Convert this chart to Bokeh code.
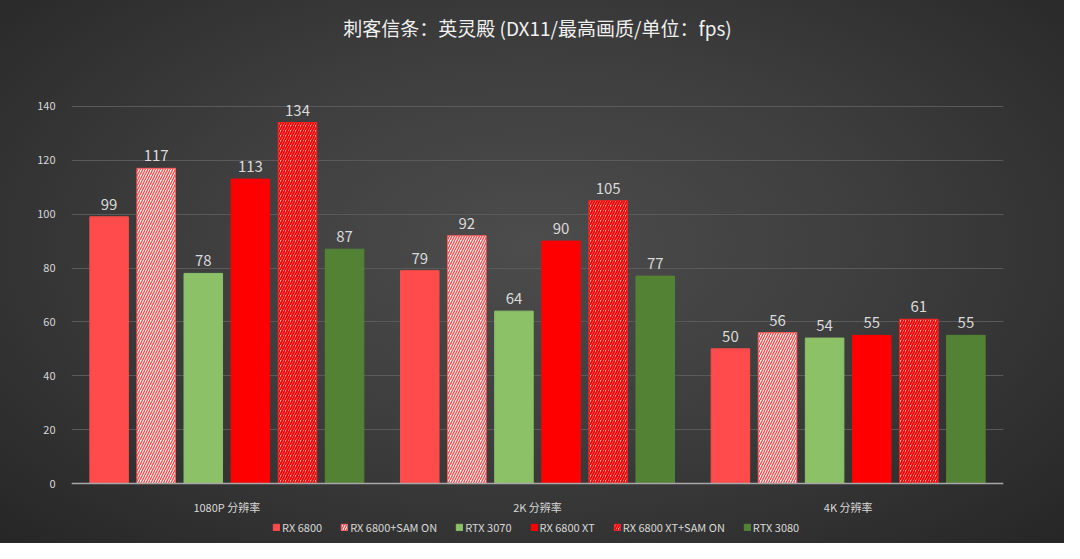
from bokeh.plotting import figure
from bokeh.models import ColumnDataSource, Range1d, FactorRange
from bokeh.transform import dodge
from bokeh.core.properties import value
from bokeh.embed import file_html
from bokeh.resources import INLINE

categories = ["1080P 分辨率", "2K 分辨率", "4K 分辨率"]
series = ["RX 6800", "RX 6800+SAM ON", "RTX 3070", "RX 6800 XT", "RX 6800 XT+SAM ON", "RTX 3080"]
rx6800 = [99, 79, 50]
rx6800_sam = [117, 92, 56]
rtx3070 = [78, 64, 54]
rx6800xt = [113, 90, 55]
rx6800xt_sam = [134, 105, 61]
rtx3080 = [87, 77, 55]

values = [rx6800, rx6800_sam, rtx3070, rx6800xt, rx6800xt_sam, rtx3080]
styles = [
    dict(fill_color="#ff4b4b", line_color="#ff4b4b"),
    dict(fill_color="#ffffff", line_color="#ff5a5a", hatch_pattern="right_diagonal_line",
         hatch_color="#ff4646", hatch_scale=5, hatch_weight=1.3),
    dict(fill_color="#8cc168", line_color="#8cc168"),
    dict(fill_color="#ff0000", line_color="#ff0000"),
    dict(fill_color="#ffb0b0", line_color="#f02020", hatch_pattern="right_diagonal_line",
         hatch_color="#f00000", hatch_scale=5, hatch_weight=1.8),
    dict(fill_color="#548235", line_color="#548235"),
]

data = dict(cat=categories)
for i, v in enumerate(values):
    data[f"s{i}"] = v
    data[f"t{i}"] = [str(a) for a in v]
src = ColumnDataSource(data)

p = figure(width=1064, height=543, output_backend="svg", toolbar_location=None,
           x_range=FactorRange(factors=categories, range_padding=0),
           y_range=Range1d(-20.4, 162.6),
           min_border_left=71, min_border_right=61, min_border_top=45, min_border_bottom=5)

p.styles = {"background": "radial-gradient(ellipse at 50% 45%, #4c4c4c 0%, #3e3e3e 45%, #262626 100%)"}
p.background_fill_alpha = 0
p.border_fill_alpha = 0
p.outline_line_color = None

p.title.text = "刺客信条：英灵殿 (DX11/最高画质/单位：fps)"
p.title.align = "center"
p.title.text_color = "#f0f0f0"
p.title.text_font = "Noto Sans CJK SC"
p.title.text_font_size = "19px"
p.title.text_font_style = "normal"

pitch = 0.1516
width = 0.124
for i, (name, st) in enumerate(zip(series, styles)):
    off = (i - 2.5) * pitch
    p.vbar(x=dodge("cat", off, range=p.x_range), top=f"s{i}", width=width, bottom=0,
           source=src, line_width=1, legend_label=name, **st)
    p.text(x=dodge("cat", off, range=p.x_range), y=f"s{i}", text=f"t{i}", source=src,
           text_align="center", text_baseline="bottom", y_offset=-7, text_color="#dadada",
           text_font=value("Noto Sans CJK SC"), text_font_size="15px")

p.xaxis.fixed_location = 0
p.xaxis.major_tick_line_color = None
p.xaxis.minor_tick_line_color = None
p.xaxis.axis_line_color = "#a8a8a8"
p.xaxis.axis_line_width = 1.5
p.xaxis.major_label_text_color = "#d8d8d8"
p.xaxis.major_label_text_font = "Noto Sans CJK SC"
p.xaxis.major_label_text_font_size = "11px"
p.xaxis.major_label_standoff = 9

p.yaxis.bounds = (0, 140)
p.yaxis.axis_line_color = None
p.yaxis.major_tick_line_color = None
p.yaxis.minor_tick_line_color = None
p.yaxis.major_label_text_color = "#d8d8d8"
p.yaxis.major_label_text_font = "Noto Sans CJK SC"
p.yaxis.major_label_text_font_size = "11px"
p.yaxis.major_label_standoff = 10

p.xgrid.grid_line_color = None
p.ygrid.bounds = (0, 140)
p.ygrid.grid_line_color = "#5a5a5a"
p.ygrid.grid_line_width = 1

lg = p.legend[0]
lg.orientation = "horizontal"
lg.location = (201, 3)
lg.background_fill_alpha = 0
lg.border_line_color = None
lg.label_text_color = "#d8d8d8"
lg.label_text_font = "Noto Sans CJK SC"
lg.label_text_font_size = "11px"
lg.glyph_width = 8
lg.glyph_height = 8
lg.label_standoff = 2
lg.spacing = 18
lg.padding = 0
lg.margin = 0

open("out.html", "w").write(file_html(p, INLINE))
